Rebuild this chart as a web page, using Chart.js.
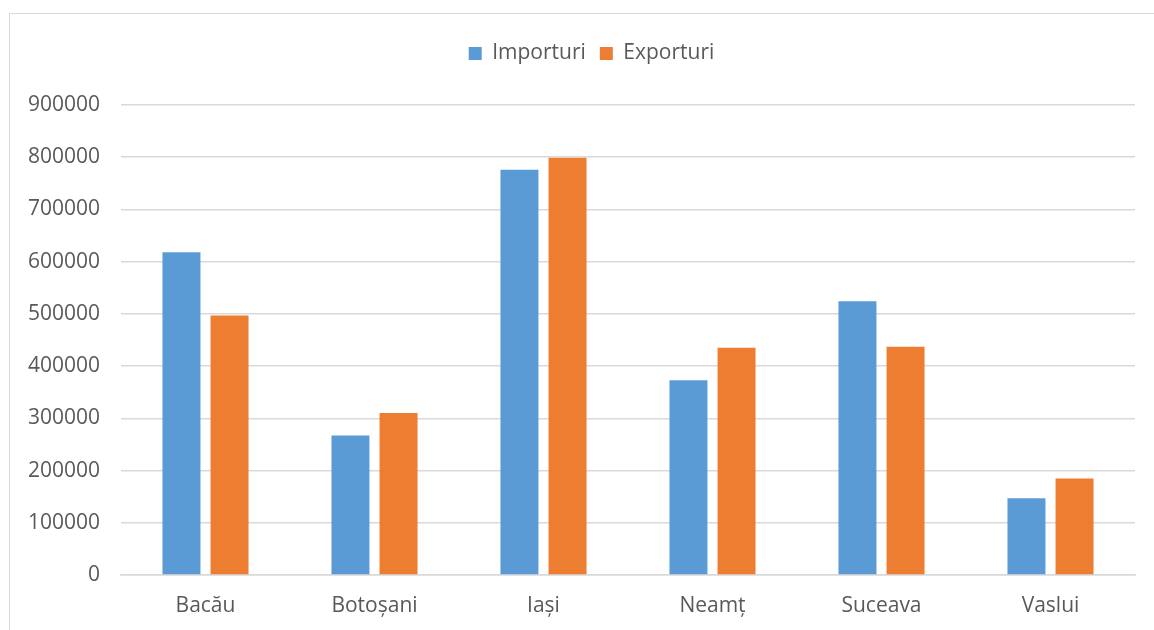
<!DOCTYPE html>
<html>
<head>
<meta charset="utf-8">
<script src="https://cdn.jsdelivr.net/npm/chart.js@4/dist/chart.umd.min.js"></script>
<style>
  html, body { margin: 0; padding: 0; background: #fff; }
  .wrap { position: relative; width: 1154px; height: 630px; overflow: hidden; }
  .frame { position: absolute; left: 9px; top: 13px; width: 1300px; height: 800px; border: 1.5px solid #d9d9d9; box-sizing: border-box; }
  canvas { position: absolute; left: 0; top: 0; }
</style>
</head>
<body>
<div class="wrap">
  <div class="frame"></div>
  <canvas id="chart" width="1154" height="630"></canvas>
</div>
<script>
const categories = ['Bacău', 'Botoșani', 'Iași', 'Neamț', 'Suceava', 'Vaslui'];
const importuri = [618000, 267000, 776000, 373000, 524000, 147000];
const exporturi = [497000, 310000, 799000, 435000, 437000, 185000];
const yMin = 0;
const yMax = 900000;
const yStep = 100000;

const fontFamily = '"Open Sans", "Noto Sans", sans-serif';
const textColor = '#595959';
const gridColor = '#d9d9d9';

// push the plot area down below the legend, and centre the legend on the frame
const legendGap = {
  id: 'legendGap',
  beforeInit(chart) {
    const legend = chart.legend;
    const origFit = legend.fit;
    legend.fit = function fit() {
      origFit.bind(legend)();
      this.height += 31;
    };
    const origDraw = legend.draw;
    legend.draw = function draw() {
      const c = chart.ctx;
      c.save();
      c.translate(24, 0);
      origDraw.bind(legend)();
      c.restore();
    };
  }
};

const ctx = document.getElementById('chart').getContext('2d');
new Chart(ctx, {
  type: 'bar',
  data: {
    labels: categories,
    datasets: [
      {
        label: 'Importuri',
        data: importuri,
        backgroundColor: '#5b9bd5',
        categoryPercentage: 0.569,
        barPercentage: 0.79
      },
      {
        label: 'Exporturi',
        data: exporturi,
        backgroundColor: '#ed7d31',
        categoryPercentage: 0.569,
        barPercentage: 0.79
      }
    ]
  },
  plugins: [legendGap],
  options: {
    responsive: false,
    animation: false,
    layout: { padding: { top: 29, right: 19, bottom: 0, left: 0 } },
    plugins: {
      legend: {
        position: 'top',
        labels: {
          boxWidth: 13,
          boxHeight: 13,
          padding: 14,
          color: textColor,
          font: { family: fontFamily, size: 21 }
        }
      },
      tooltip: { enabled: false }
    },
    scales: {
      x: {
        grid: { display: false, drawTicks: false },
        border: { display: true, color: gridColor, width: 1.5 },
        ticks: {
          color: textColor,
          padding: 18,
          font: { family: fontFamily, size: 21 }
        },
        afterFit(scale) { scale.height = 55; }
      },
      y: {
        min: yMin,
        max: yMax,
        grid: { color: gridColor, lineWidth: 1.5, drawTicks: false },
        border: { display: false },
        ticks: {
          stepSize: yStep,
          color: textColor,
          padding: 21,
          font: { family: fontFamily, size: 21 },
          callback: (v) => String(v)
        },
        afterFit(scale) { scale.width = 121; }
      }
    }
  }
});
</script>
</body>
</html>
